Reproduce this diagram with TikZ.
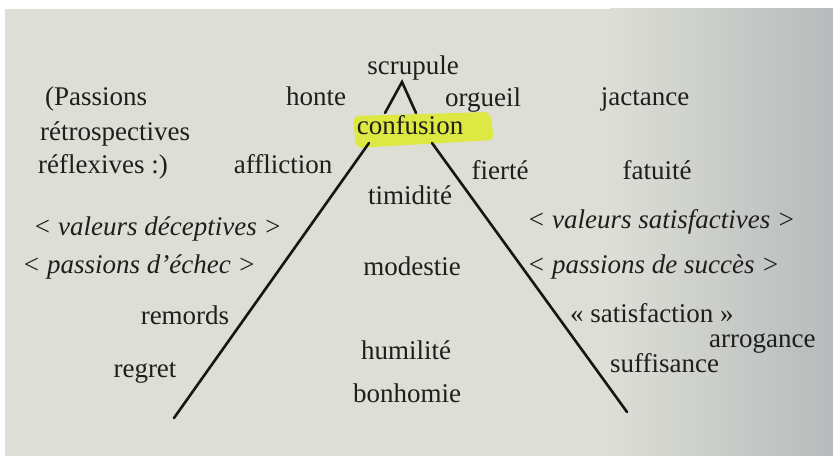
\documentclass[tikz,border=0pt]{standalone}
\usepackage{fontspec}
\setmainfont{Liberation Serif}
\definecolor{paper}{RGB}{221,222,214}
\definecolor{papershade}{RGB}{182,187,188}
\definecolor{ink}{RGB}{30,30,28}
\definecolor{stroke}{RGB}{22,22,20}
\definecolor{marker}{RGB}{222,232,66}
\begin{document}
\begin{tikzpicture}[x=1bp,y=-1bp,
  word/.style={inner sep=0pt, text=ink, font=\fontsize{27bp}{32bp}\selectfont},
  mid/.style={word, anchor=base},
  west/.style={word, anchor=base west},
  emph/.style={word, anchor=base west, font=\fontsize{27bp}{32bp}\selectfont\itshape},
  rule/.style={draw=stroke, line width=2.6bp, line cap=round}]
\useasboundingbox (0,0) rectangle (833,456);

% page background with a darker edge on the right
\fill[white] (0,0) rectangle (833,456);
\fill[paper] (5,9) rectangle (611,456);
\shade[left color=paper, right color=papershade] (610,9) rectangle (833,456);

% marker stroke behind the top term
\fill[marker, rounded corners=6bp] (353,116) -- (490,112) -- (494,140) -- (356,148) -- cycle;

% apex and central terms
\node[mid] (scrupule) at (413,75) {scrupule};
\node[mid] (confusion) at (410,135) {confusion};
\node[mid] (timidite) at (410,205) {timidité};
\node[mid] (modestie) at (412,276) {modestie};
\node[mid] (humilite) at (406,360) {humilité};
\node[mid] (bonhomie) at (407,402) {bonhomie};

% left-hand side
\node[west] (passions) at (45,106) {(Passions};
\node[west] (retro) at (40,141) {rétrospectives};
\node[west] (reflex) at (38,174) {réflexives :)};
\node[mid] (honte) at (316,106) {honte};
\node[mid] (affliction) at (283,174) {affliction};
\node[emph] (deceptives) at (33,236) {< valeurs déceptives >};
\node[emph] (echec) at (22,274) {< passions d'échec >};
\node[mid] (remords) at (185,325) {remords};
\node[mid] (regret) at (145,378) {regret};

% right-hand side
\node[mid] (orgueil) at (483,107) {orgueil};
\node[mid] (jactance) at (645,106) {jactance};
\node[mid] (fierte) at (500,180) {fierté};
\node[mid] (fatuite) at (657,180) {fatuité};
\node[emph] (satisfactives) at (527,229) {< valeurs satisfactives >};
\node[emph] (succes) at (527,274) {< passions de succès >};
\node[west] (satisfaction) at (570,323) {« satisfaction »};
\node[west] (arrogance) at (709,348) {arrogance};
\node[west] (suffisance) at (610,373) {suffisance};

% end points of the strokes
\coordinate (apex) at (402,82);
\coordinate (apexL) at (385,113);
\coordinate (apexR) at (416,113);
\coordinate (topL) at (369,143);
\coordinate (baseL) at (174,418);
\coordinate (topR) at (432,143);
\coordinate (baseR) at (627,412);

% small chevron under the apex term
\draw[rule] (apexL) -- (apex) -- (apexR);
% the two flanks of the triangle
\draw[rule] (topL) -- (baseL);
\draw[rule] (topR) -- (baseR);
\end{tikzpicture}
\end{document}
